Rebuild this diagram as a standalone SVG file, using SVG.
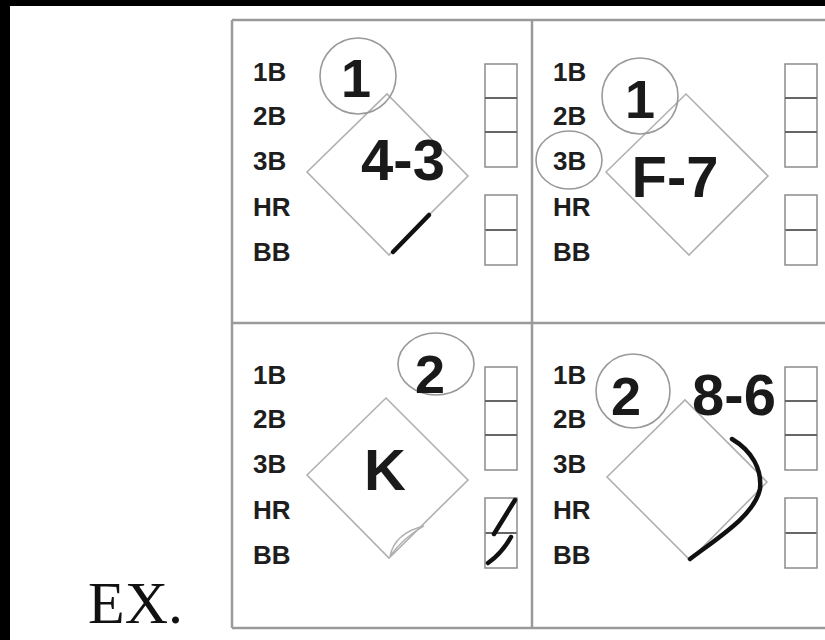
<svg xmlns="http://www.w3.org/2000/svg" width="825" height="640" viewBox="0 0 825 640">
<style>
.lbl{font-family:"Liberation Sans",Arial,sans-serif;font-weight:bold;font-size:26px;fill:#1e1e1e}
.big{font-family:"Liberation Sans",Arial,sans-serif;font-weight:bold;font-size:58px;fill:#1a1a1a;text-anchor:middle}
.num{font-family:"Liberation Sans",Arial,sans-serif;font-weight:bold;font-size:54px;fill:#1a1a1a;text-anchor:middle}
.frame{fill:none;stroke:#9a9a9a;stroke-width:2.5}
.dia{fill:none;stroke:#b0b0b0;stroke-width:1.6}
.box{fill:none;stroke:#8c8c8c;stroke-width:1.5}
.div{stroke:#666;stroke-width:1.8}
.ring{fill:none;stroke:#999;stroke-width:1.6}
.mark{fill:none;stroke:#111;stroke-width:4.5;stroke-linecap:round;stroke-linejoin:round}
.ex{font-family:"Liberation Serif","Times New Roman",serif;font-size:60px;fill:#111}
</style>
<rect x="0" y="0" width="825" height="640" fill="#fff"/>
<rect x="0" y="0" width="825" height="6" fill="#000"/>
<rect x="0" y="0" width="10" height="640" fill="#000"/>
<text class="ex" x="88" y="623">EX.</text>
<g id="frame">
<path class="frame" d="M232,20 H825 M232,323 H825 M232,628 H825 M232,20 V628 M532,20 V628"/>
</g>
<g id="cell-1-43" transform="translate(232,20)">
<text class="lbl" x="21" y="61">1B</text>
<text class="lbl" x="21" y="105">2B</text>
<text class="lbl" x="21" y="150">3B</text>
<text class="lbl" x="21" y="196">HR</text>
<text class="lbl" x="21" y="241">BB</text>
<polygon class="dia" points="75,152 155,74 236,156 157,235"/>
<rect class="box" x="253" y="44" width="32" height="103"/>
<path class="div" d="M253,78 H285 M253,112 H285 M253,210 H285"/>
<rect class="box" x="253" y="175" width="32" height="70"/>
<circle class="ring" cx="126" cy="56" r="38"/>
<text class="num" x="124" y="77">1</text>
<text class="big" x="171" y="160">4-3</text>
<path class="mark" d="M197,195 L161,232"/>
</g>
<g id="cell-1-F7" transform="translate(532,20)">
<text class="lbl" x="21" y="61">1B</text>
<text class="lbl" x="21" y="105">2B</text>
<text class="lbl" x="21" y="150">3B</text>
<text class="lbl" x="21" y="196">HR</text>
<text class="lbl" x="21" y="241">BB</text>
<ellipse class="ring" cx="37" cy="140" rx="33" ry="29"/>
<polygon class="dia" points="74,152 154,74 236,156 157,235"/>
<rect class="box" x="253" y="44" width="32" height="103"/>
<path class="div" d="M253,78 H285 M253,112 H285 M253,210 H285"/>
<rect class="box" x="253" y="175" width="32" height="70"/>
<circle class="ring" cx="108" cy="76" r="38"/>
<text class="num" x="108" y="98">1</text>
<text class="big" x="143" y="177">F-7</text>
</g>
<g id="cell-2-K" transform="translate(232,323)">
<text class="lbl" x="21" y="61">1B</text>
<text class="lbl" x="21" y="105">2B</text>
<text class="lbl" x="21" y="150">3B</text>
<text class="lbl" x="21" y="196">HR</text>
<text class="lbl" x="21" y="241">BB</text>
<polygon class="dia" points="75,152 154,75 236,157 157,235"/>
<path d="M158,233 Q163,210 192,203 Q172,214 158,233 Z" fill="none" stroke="#b0b0b0" stroke-width="1.4"/>
<rect class="box" x="253" y="44" width="32" height="103"/>
<path class="div" d="M253,78 H285 M253,112 H285 M253,210 H285"/>
<rect class="box" x="253" y="175" width="32" height="70"/>
<ellipse class="ring" cx="204" cy="41" rx="38" ry="31"/>
<text class="num" x="198" y="70">2</text>
<text class="big" x="153" y="167">K</text>
<path class="mark" stroke-width="4" d="M283,177 L262,211 M279,214 Q270,230 256,240"/>
</g>
<g id="cell-2-86" transform="translate(532,323)">
<text class="lbl" x="21" y="61">1B</text>
<text class="lbl" x="21" y="105">2B</text>
<text class="lbl" x="21" y="150">3B</text>
<text class="lbl" x="21" y="196">HR</text>
<text class="lbl" x="21" y="241">BB</text>
<polygon class="dia" points="75,154 153,77 235,159 158,237"/>
<rect class="box" x="253" y="44" width="32" height="103"/>
<path class="div" d="M253,78 H285 M253,112 H285 M253,210 H285"/>
<rect class="box" x="253" y="175" width="32" height="70"/>
<circle class="ring" cx="101" cy="68" r="37"/>
<text class="num" x="94" y="92">2</text>
<text class="big" x="202" y="92">8-6</text>
<path class="mark" d="M200,116 C220,128 230,146 228,166 C222,192 190,212 158,236"/>
</g>
</svg>
